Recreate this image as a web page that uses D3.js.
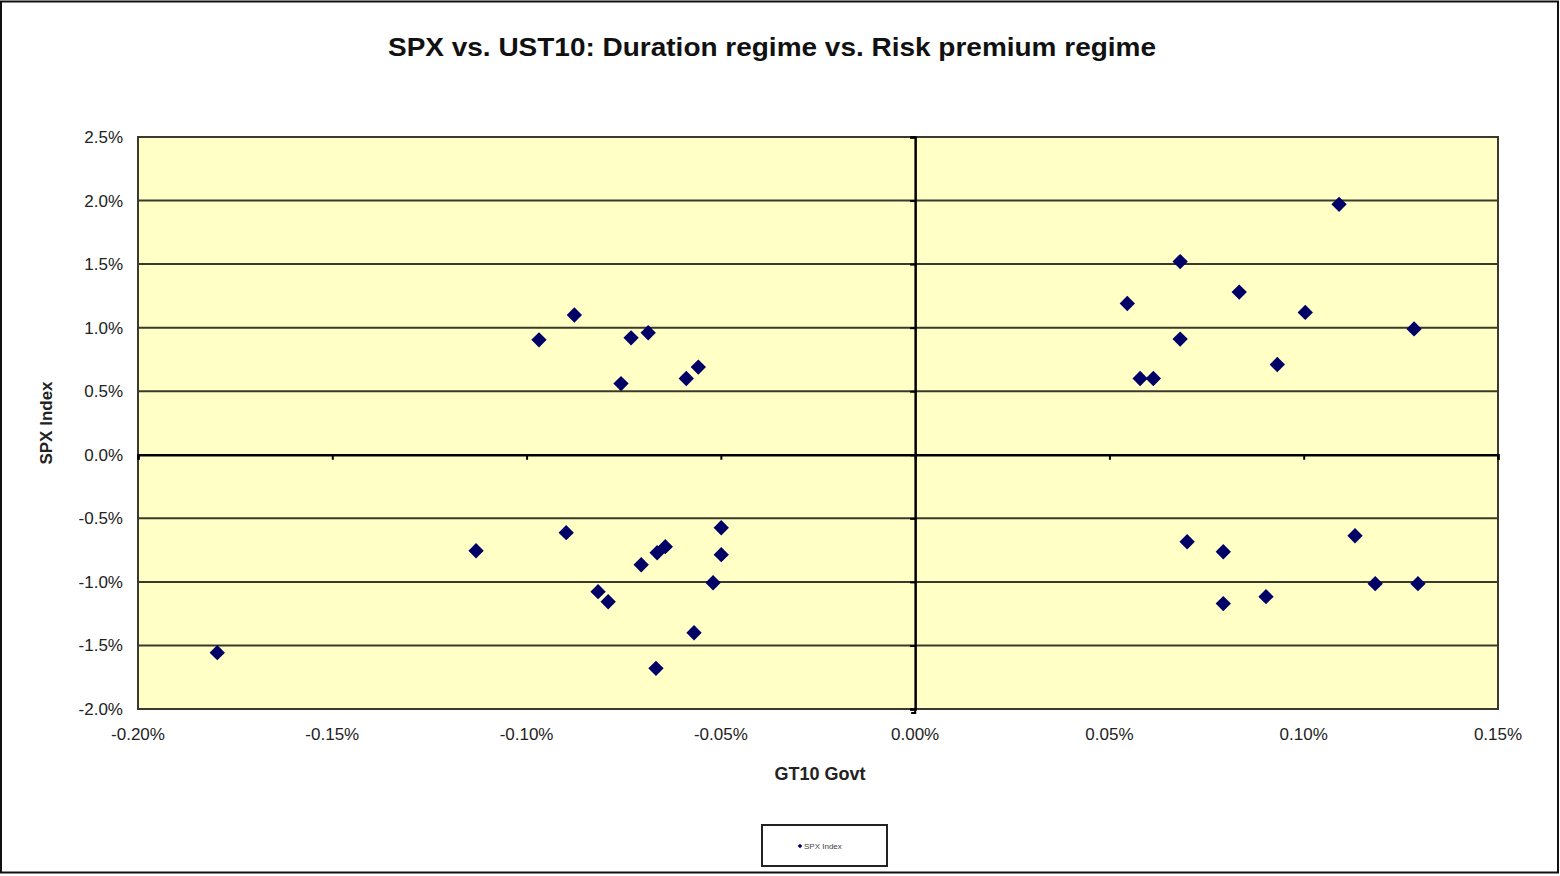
<!DOCTYPE html>
<html>
<head>
<meta charset="utf-8">
<script src="https://cdn.jsdelivr.net/npm/d3@7"></script>
<style>
html,body{margin:0;padding:0;background:#fff;}
svg{display:block;}
text{font-family:"Liberation Sans",Arial,sans-serif;}
</style>
</head>
<body>
<svg id="chart" width="1560" height="876"></svg>
<script>
// GT10 Govt daily change (%) and SPX Index daily change (%)
const gt10 = [
  -0.0968, -0.0877, -0.0731, -0.0687, -0.0757, -0.0589, -0.0558,
  0.1091, 0.0682, 0.0546, 0.0834, 0.1004, 0.1284, 0.0682, 0.0932, 0.0579, 0.0613,
  -0.1796, -0.1130, -0.0898, -0.0816, -0.0790, -0.0705, -0.0664, -0.0643, -0.0667, -0.0569, -0.0520, -0.0499, -0.0499,
  0.0700, 0.0793, 0.1132, 0.1184, 0.1294, 0.0793, 0.0903
];
const spx = [
  0.904, 1.10, 0.92, 0.96, 0.56, 0.60, 0.69,
  1.97, 1.52, 1.19, 1.28, 1.12, 0.99, 0.91, 0.71, 0.60, 0.60,
  -1.557, -0.755, -0.613, -1.077, -1.156, -0.865, -0.771, -0.723, -1.68, -1.40, -1.007, -0.786, -0.574,
  -0.684, -0.763, -0.637, -1.014, -1.014, -1.171, -1.116
];
const xTicks = [-0.20, -0.15, -0.10, -0.05, 0.00, 0.05, 0.10, 0.15];
const yTicks = [-2.0, -1.5, -1.0, -0.5, 0.0, 0.5, 1.0, 1.5, 2.0, 2.5];
const title = "SPX vs. UST10: Duration regime vs. Risk premium regime";
const xTitle = "GT10 Govt";
const yTitle = "SPX Index";
const seriesName = "SPX Index";

const svg = d3.select("#chart");
const W = 1560, H = 876;
const plot = {left: 138, right: 1498, top: 137, bottom: 709};

// outer frame
svg.append("rect").attr("x", 1).attr("y", 1.5).attr("width", W - 3).attr("height", 871)
  .attr("fill", "#fff").attr("stroke", "#111").attr("stroke-width", 2);

const x = d3.scaleLinear().domain([-0.20, 0.15]).range([plot.left, plot.right]);
const y = d3.scaleLinear().domain([-2.0, 2.5]).range([plot.bottom, plot.top]);

// plot background
svg.append("rect").attr("x", plot.left).attr("y", plot.top)
  .attr("width", plot.right - plot.left).attr("height", plot.bottom - plot.top)
  .attr("fill", "#FFFFC6");

// horizontal gridlines
svg.append("g").selectAll("line").data(yTicks.filter(v => v !== 0 && v !== -2.0 && v !== 2.5)).join("line")
  .attr("x1", plot.left).attr("x2", plot.right)
  .attr("y1", d => y(d)).attr("y2", d => y(d))
  .attr("stroke", "#3a3a2a").attr("stroke-width", 2);

// plot border
svg.append("rect").attr("x", plot.left).attr("y", plot.top)
  .attr("width", plot.right - plot.left).attr("height", plot.bottom - plot.top)
  .attr("fill", "none").attr("stroke", "#3a3a30").attr("stroke-width", 2);

// zero axes with ticks via d3 axes
const xAxisG = svg.append("g").attr("transform", `translate(0,${y(0)})`)
  .call(d3.axisBottom(x).tickValues(xTicks).tickSize(5).tickFormat(""));
xAxisG.select(".domain").attr("stroke", "#000").attr("stroke-width", 2.5);
xAxisG.selectAll(".tick line").attr("stroke", "#000").attr("stroke-width", 2);

const yAxisG = svg.append("g").attr("transform", `translate(${x(0)},0)`)
  .call(d3.axisLeft(y).tickValues(yTicks).tickSize(5).tickFormat(""));
yAxisG.select(".domain").attr("stroke", "#000").attr("stroke-width", 2.5);
yAxisG.selectAll(".tick line").attr("stroke", "#000").attr("stroke-width", 2);
// short extension below plot at x=0
svg.append("line").attr("x1", x(0)).attr("x2", x(0)).attr("y1", plot.bottom).attr("y2", plot.bottom + 5)
  .attr("stroke", "#000").attr("stroke-width", 2);
svg.append("line").attr("x1", x(0) - 4).attr("x2", x(0) + 1).attr("y1", plot.bottom + 4).attr("y2", plot.bottom + 4)
  .attr("stroke", "#000").attr("stroke-width", 2);

// tick labels (ASCII hyphen for negatives)
const fmtX = d => d3.format(".2f")(d).replace("\u2212", "-") + "%";
const fmtY = d => d3.format(".1f")(d).replace("\u2212", "-") + "%";
svg.append("g").selectAll("text").data(xTicks).join("text")
  .attr("x", d => x(d)).attr("y", 740)
  .attr("text-anchor", "middle").attr("font-size", 17).attr("fill", "#222")
  .text(fmtX);
svg.append("g").selectAll("text").data(yTicks).join("text")
  .attr("x", 123).attr("y", d => y(d) + 6)
  .attr("text-anchor", "end").attr("font-size", 17).attr("fill", "#222")
  .text(fmtY);

// markers
const sym = d3.symbol().type(d3.symbolDiamond2).size(150);
svg.append("g").selectAll("path").data(gt10.map((g, i) => [g, spx[i]])).join("path")
  .attr("transform", d => `translate(${x(d[0])},${y(d[1])})`)
  .attr("d", sym).attr("fill", "#000066");

// title
svg.append("text").attr("x", 772).attr("y", 56).attr("text-anchor", "middle")
  .attr("font-size", 26).attr("font-weight", "bold").attr("fill", "#111")
  .attr("textLength", 768).attr("lengthAdjust", "spacingAndGlyphs")
  .text(title);

// axis titles
svg.append("text").attr("x", 820).attr("y", 780).attr("text-anchor", "middle")
  .attr("font-size", 18).attr("font-weight", "bold").attr("fill", "#222")
  .text(xTitle);
svg.append("text").attr("transform", `translate(52,${(plot.top + plot.bottom) / 2}) rotate(-90)`)
  .attr("text-anchor", "middle").attr("font-size", 17).attr("font-weight", "bold").attr("fill", "#222")
  .text(yTitle);

// legend
const lg = svg.append("g");
lg.append("rect").attr("x", 762).attr("y", 825).attr("width", 125).attr("height", 41)
  .attr("fill", "#fff").attr("stroke", "#222").attr("stroke-width", 2);
lg.append("path").attr("transform", "translate(800,846)")
  .attr("d", d3.symbol().type(d3.symbolDiamond2).size(14)).attr("fill", "#000066");
lg.append("text").attr("x", 804).attr("y", 849).attr("font-size", 8).attr("fill", "#444")
  .text(seriesName);
</script>
</body>
</html>
